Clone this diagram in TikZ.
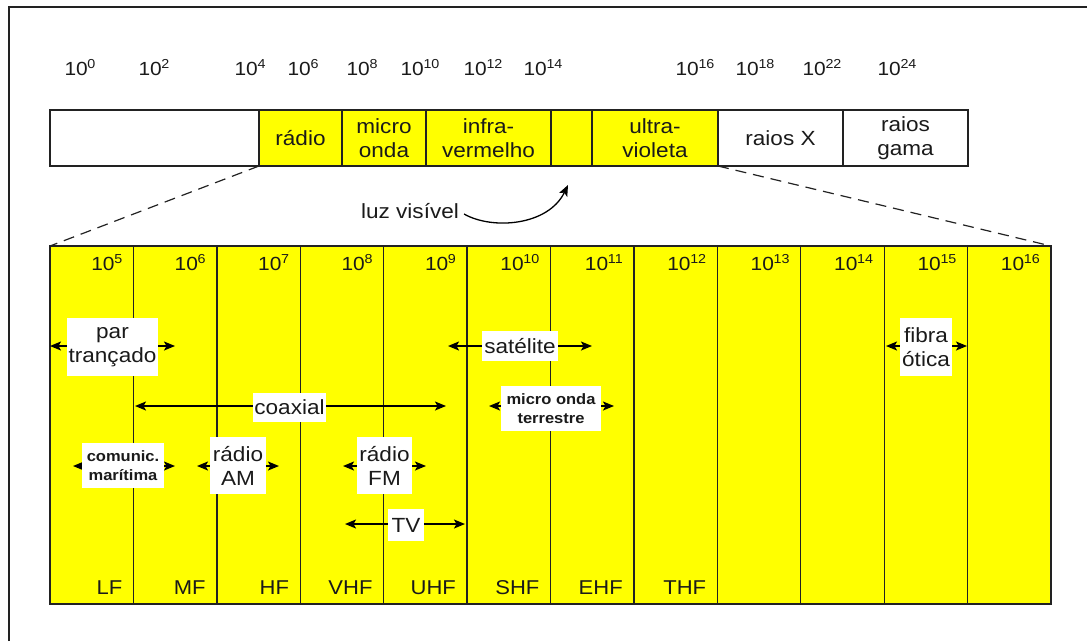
\documentclass[tikz,border=0pt]{standalone}
\usepackage{fontspec}
\setmainfont[FakeStretch=1.1]{Liberation Sans}
\usetikzlibrary{arrows.meta}
\definecolor{yel}{HTML}{FFFF00}
\definecolor{edge}{HTML}{222222}
\definecolor{txt}{HTML}{1A1A1A}
\newcommand\fsz[2]{\fontsize{#1}{#2}\selectfont}
\newcommand\pw[1]{10\kern-0.3pt\raisebox{0.36em}{\fsz{13}{13}#1}}
\begin{document}
\begin{tikzpicture}[x=1pt,y=-1pt,
  every node/.style={text=txt},
  cell/.style={draw=edge, line width=1.4pt, minimum height=56pt, anchor=north west,
    inner sep=0pt, outer sep=0pt, align=center, font=\fsz{20.5}{24.5}},
  col/.style={draw=edge, fill=yel, line width=1.4pt, minimum width=83.42pt, minimum height=358pt,
    anchor=north west, inner sep=0pt, outer sep=0pt},
  expo/.style={font=\fsz{19}{22}, inner sep=0pt},
  band/.style={font=\fsz{20}{24}, inner sep=0pt, anchor=base east},
  lbl/.style={fill=white, inner sep=0pt, align=center, font=\fsz{20.5}{24}},
  sml/.style={fill=white, inner sep=0pt, align=center, font=\bfseries\fsz{15}{19}},
  dbl/.style={draw=black, line width=1.5pt, {Stealth[length=11pt,width=9pt,inset=2.5pt]}-{Stealth[length=11pt,width=9pt,inset=2.5pt]}},
  zoomln/.style={draw=edge, line width=1.2pt, dash pattern=on 11pt off 7pt}
]
\useasboundingbox (0,0) rectangle (1087,641);
% outer frame
\coordinate (fa) at (9,641);
\coordinate (fb) at (9,7);
\coordinate (fc) at (1087,7);
\draw[edge, line width=2pt] (fa) -- (fb) -- (fc);

% top exponent labels
\foreach \cx/\e [count=\k] in {80/0,154/2,250/4,303/6,362/8,420/10,483/12,543/14,695/16,755/18,822/22,897/24}
  \node[expo, anchor=base] (t\k) at (\cx,75) {\pw{\e}};

% top bar
\node[cell, fill=white, minimum width=209pt] (c0) at (50,110) {};
\node[cell, fill=yel, minimum width=83pt] (c1) at (259,110) {rádio};
\node[cell, fill=yel, minimum width=84pt] (c2) at (342,110) {micro\\onda};
\node[cell, fill=yel, minimum width=125pt] (c3) at (426,110) {infra-\\vermelho};
\node[cell, fill=yel, minimum width=41pt] (c4) at (551,110) {};
\node[cell, fill=yel, minimum width=126pt] (c5) at (592,110) {ultra-\\violeta};
\node[cell, fill=white, minimum width=125pt] (c6) at (718,110) {raios X};
\node[cell, fill=white, minimum width=125pt] (c7) at (843,110) {raios\\gama};

% bottom columns
\foreach \i in {1,...,12}{
  \pgfmathsetmacro\xx{50+(\i-1)*83.42}
  \node[col] (col\i) at (\xx,246) {};
}
% zoom lines
\draw[zoomln] (c1.south west) -- (col1.north west);
\draw[zoomln] (c5.south east) -- (col12.north east);

% column exponents and band names
\foreach \e [count=\i] in {5,...,16}{
  \pgfmathsetmacro\xx{50+\i*83.42-11}
  \node[expo, anchor=base east] (x\i) at (\xx,270) {\pw{\e}};
}
\foreach \b [count=\i] in {LF,MF,HF,VHF,UHF,SHF,EHF,THF}{
  \pgfmathsetmacro\xx{50+\i*83.42-11}
  \node[band] (b\i) at (\xx,594) {\b};
}

% luz visivel
\node[font=\fsz{20.5}{24}, inner sep=0pt] (luz) at (410,211) {luz visível};
\coordinate (luzEnd) at (568,185);
\draw[black, line width=1.3pt, -{Stealth[length=11pt,width=9pt,inset=2.5pt]}]
  ([xshift=5pt,yshift=-3pt]luz.east) .. controls (492,230) and (548,226) .. (luzEnd);

% arrows with labels
\coordinate (parL) at (50,346);  \coordinate (parR) at (175,346);
\draw[dbl] (parL) -- (parR);
\node[lbl, minimum width=91pt, minimum height=58pt] (par) at (112.5,347) {par\\trançado};

\coordinate (satL) at (448,346); \coordinate (satR) at (592,346);
\draw[dbl] (satL) -- (satR);
\node[lbl, minimum width=76pt, minimum height=30pt] (sat) at (520,346) {satélite};

\coordinate (coaL) at (135,406); \coordinate (coaR) at (446,406);
\draw[dbl] (coaL) -- (coaR);
\node[lbl, minimum width=73pt, minimum height=29pt] (coa) at (289.5,407) {coaxial};

\coordinate (mtL) at (489,406); \coordinate (mtR) at (614,406);
\draw[dbl] (mtL) -- (mtR);
\node[sml, minimum width=100pt, minimum height=45pt] (mt) at (551,408.5) {micro onda\\terrestre};

\coordinate (fibL) at (886,346); \coordinate (fibR) at (967,346);
\draw[dbl] (fibL) -- (fibR);
\node[lbl, minimum width=52pt, minimum height=58pt] (fib) at (926,347) {fibra\\ótica};

\coordinate (cmL) at (73,466); \coordinate (cmR) at (175,466);
\draw[dbl] (cmL) -- (cmR);
\node[sml, minimum width=82pt, minimum height=45pt] (cm) at (123,465.5) {comunic.\\marítima};

\coordinate (amL) at (197,466); \coordinate (amR) at (279,466);
\draw[dbl] (amL) -- (amR);
\node[lbl, minimum width=56pt, minimum height=57pt] (am) at (238,465.5) {rádio\\AM};

\coordinate (fmL) at (343,466); \coordinate (fmR) at (426,466);
\draw[dbl] (fmL) -- (fmR);
\node[lbl, minimum width=55pt, minimum height=57pt] (fm) at (384.5,465.5) {rádio\\FM};

\coordinate (tvL) at (345,524); \coordinate (tvR) at (465,524);
\draw[dbl] (tvL) -- (tvR);
\node[lbl, minimum width=36pt, minimum height=32pt] (tv) at (406,525) {TV};
\end{tikzpicture}
\end{document}
